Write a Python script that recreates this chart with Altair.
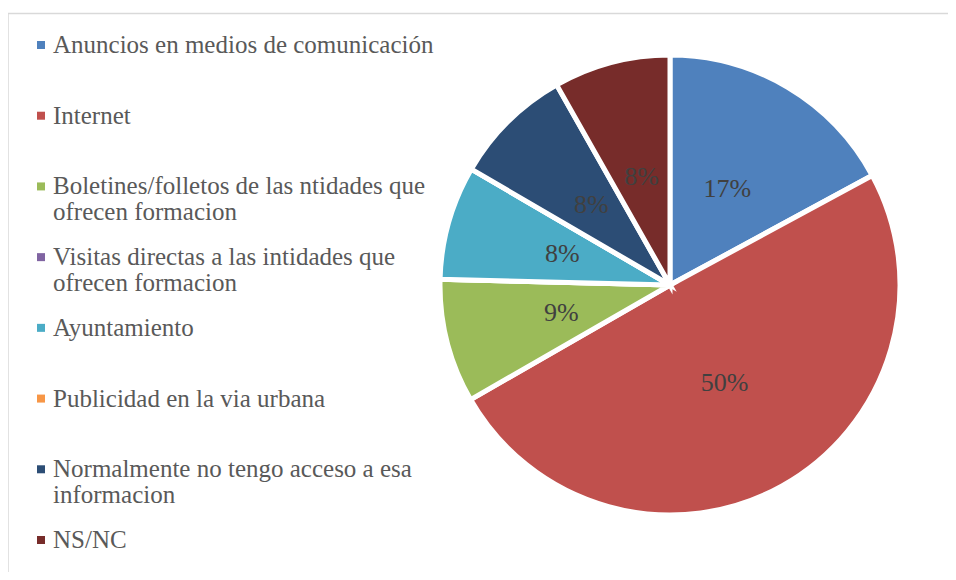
import altair as alt
import pandas as pd

categories = [
    "Anuncios en medios de comunicación",
    "Internet",
    "Boletines/folletos de las ntidades que ofrecen formacion",
    "Visitas directas a las intidades que ofrecen formacion",
    "Ayuntamiento",
    "Publicidad en la via urbana",
    "Normalmente no tengo acceso a esa informacion",
    "NS/NC",
]
legend_lines = [
    ["Anuncios en medios de comunicación"],
    ["Internet"],
    ["Boletines/folletos de las ntidades que", "ofrecen formacion"],
    ["Visitas directas a las intidades que", "ofrecen formacion"],
    ["Ayuntamiento"],
    ["Publicidad en la via urbana"],
    ["Normalmente no tengo acceso a esa", "informacion"],
    ["NS/NC"],
]
values = [17.1, 49.6, 8.7, 0.0, 8.0, 0.0, 8.4, 8.2]
colors = ["#4F81BD", "#C0504D", "#9BBB59", "#8064A2", "#4BACC6", "#F79646", "#2C4D75", "#772C2A"]

df = pd.DataFrame({
    "cat": categories,
    "val": values,
    "ord": list(range(len(categories))),
    "row": list(range(len(categories))),
    "legend": ["\n".join(l) for l in legend_lines],
})
df["pct"] = df["val"].round(0).astype(int).astype(str) + "%"

W, H = 940, 564
CX, CY = 662, 277
R = 230

color_scale = alt.Scale(domain=categories, range=colors)
y_scale = alt.Scale(domain=[0, 7], range=[37, 532])

one = pd.DataFrame({"a": [0]})
frame_top = alt.Chart(one).mark_rule(stroke="#d9d9d9", strokeWidth=1.5).encode(
    x=alt.value(0), x2=alt.value(W), y=alt.value(5.5)
)
frame_left = alt.Chart(one).mark_rule(stroke="#d9d9d9", strokeWidth=1.5).encode(
    x=alt.value(0), y=alt.value(5.5), y2=alt.value(H)
)

base = alt.Chart(df)

pie = base.mark_arc(outerRadius=R, stroke="white", strokeWidth=5).encode(
    theta=alt.Theta("val:Q", stack=True),
    order=alt.Order("ord:Q"),
    color=alt.Color("cat:N", scale=color_scale, legend=None),
    x=alt.value(CX), y=alt.value(CY),
)

labels = base.transform_filter("datum.val > 0").mark_text(
    radius=112, font="Liberation Serif", fontSize=26, color="#404040"
).encode(
    theta=alt.Theta("val:Q", stack=True),
    order=alt.Order("ord:Q"),
    text="pct:N",
    x=alt.value(CX), y=alt.value(CY),
)

leg_sym = base.mark_square(size=64, opacity=1).encode(
    x=alt.value(33),
    y=alt.Y("row:Q", scale=y_scale, axis=None),
    color=alt.Color("cat:N", scale=color_scale, legend=None),
)

leg_txt = base.mark_text(
    align="left", baseline="alphabetic", dy=8, lineBreak="\n", lineHeight=26,
    font="Liberation Serif", fontSize=25, color="#595959"
).encode(
    x=alt.value(45),
    y=alt.Y("row:Q", scale=y_scale, axis=None),
    text="legend:N",
)

chart = alt.layer(frame_top, frame_left, pie, labels, leg_sym, leg_txt).properties(
    width=W, height=H,
    autosize=alt.AutoSizeParams(type="none"),
    padding=0,
).configure_view(stroke=None)

chart.save("out.html", embed_options={"renderer": "svg", "actions": False})
